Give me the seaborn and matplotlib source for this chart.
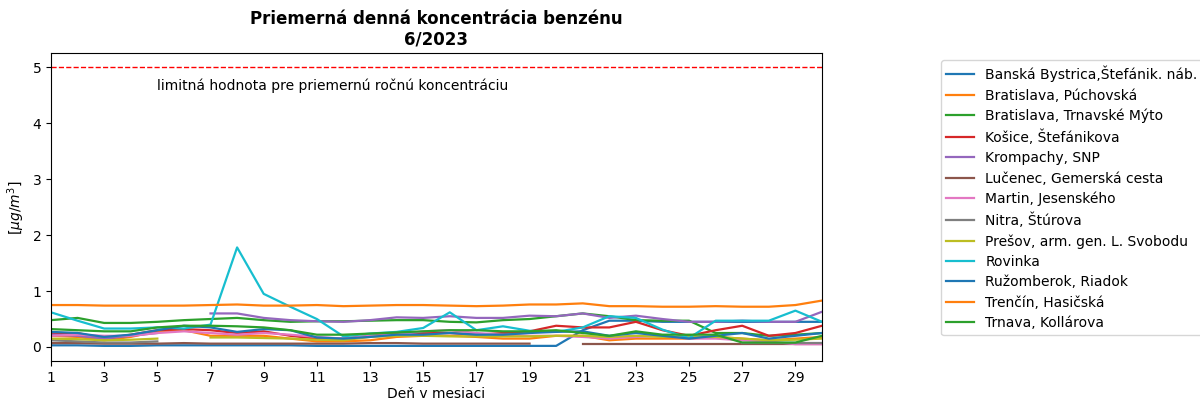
import numpy as np
import pandas as pd
import matplotlib
matplotlib.use("Agg")
import matplotlib.pyplot as plt
import seaborn as sns

nan = np.nan
days = list(range(1, 31))

stations = [
    "Banská Bystrica,Štefánik. náb.",
    "Bratislava, Púchovská",
    "Bratislava, Trnavské Mýto",
    "Košice, Štefánikova",
    "Krompachy, SNP",
    "Lučenec, Gemerská cesta",
    "Martin, Jesenského",
    "Nitra, Štúrova",
    "Prešov, arm. gen. L. Svobodu",
    "Rovinka",
    "Ružomberok, Riadok",
    "Trenčín, Hasičská",
    "Trnava, Kollárova",
]

banska_bystrica = [0.03, 0.03, 0.02, 0.02, 0.03, 0.03, 0.03, 0.03, 0.03, 0.03,
                   0.02, 0.02, 0.02, 0.02, 0.02, 0.02, 0.02, 0.02, 0.02, 0.02,
                   0.30, 0.47, 0.47, 0.45, 0.45, 0.45, 0.45, 0.45, 0.45, 0.45]
ba_puchovska = [0.20, 0.18, 0.12, 0.18, 0.28, 0.30, 0.20, 0.20, 0.20, 0.15,
                0.10, 0.10, 0.12, 0.18, 0.20, 0.20, 0.18, 0.15, 0.15, 0.20,
                0.20, 0.12, 0.15, 0.15, 0.15, 0.18, 0.15, 0.12, 0.15, 0.18]
ba_trnavske_myto = [0.48, 0.52, 0.43, 0.43, 0.45, 0.48, 0.50, 0.52, 0.48, 0.45,
                    0.46, 0.46, 0.47, 0.48, 0.48, 0.45, 0.44, 0.48, 0.50, 0.55,
                    0.60, 0.55, 0.48, 0.47, 0.47, 0.25, 0.25, 0.20, 0.22, 0.25]
kosice = [0.25, 0.25, 0.15, 0.22, 0.30, 0.32, 0.30, 0.25, 0.28, 0.20,
          0.15, 0.15, 0.20, 0.25, 0.25, 0.25, 0.22, 0.25, 0.28, 0.38,
          0.35, 0.35, 0.45, 0.30, 0.20, 0.30, 0.38, 0.20, 0.25, 0.38]
krompachy = [0.22, 0.20, 0.15, 0.20, 0.25, nan, 0.60, 0.60, 0.52, 0.48,
             0.46, 0.45, 0.48, 0.53, 0.52, 0.55, 0.52, 0.52, 0.56, 0.55,
             0.60, 0.52, 0.56, 0.50, 0.45, 0.45, 0.47, 0.45, 0.45, 0.63]
lucenec = [0.07, 0.07, 0.06, 0.06, 0.06, 0.07, 0.06, 0.06, 0.06, 0.06,
           0.06, 0.06, 0.07, 0.07, 0.06, 0.06, 0.06, 0.06, 0.06, nan,
           0.05, 0.05, 0.05, 0.05, 0.05, 0.05, 0.05, 0.05, 0.05, 0.05]
martin = [0.20, 0.22, 0.20, 0.20, 0.25, 0.28, 0.25, 0.22, 0.25, 0.22,
          0.18, 0.15, 0.20, 0.22, 0.28, 0.30, 0.25, 0.22, 0.20, 0.20,
          0.18, 0.15, 0.18, 0.20, 0.15, 0.15, 0.12, 0.10, 0.05, 0.05]
nitra = [0.12, 0.10, 0.08, 0.08, 0.10, nan, nan, nan, nan, nan,
         nan, nan, nan, nan, nan, nan, nan, nan, nan, nan,
         nan, nan, nan, nan, nan, nan, 0.08, 0.08, 0.08, 0.08]
presov = [0.15, 0.14, 0.12, 0.13, 0.15, nan, 0.17, 0.17, 0.16, 0.15,
          0.13, 0.12, 0.18, 0.20, 0.20, 0.19, 0.19, 0.19, 0.19, 0.20,
          0.20, 0.18, 0.20, 0.18, 0.18, 0.18, 0.15, 0.12, 0.13, 0.15]
rovinka = [0.62, 0.47, 0.33, 0.33, 0.35, 0.33, 0.40, 1.78, 0.95, 0.72,
           0.50, 0.19, 0.24, 0.27, 0.34, 0.62, 0.30, 0.37, 0.29, 0.27,
           0.35, 0.55, 0.52, 0.31, 0.16, 0.47, 0.47, 0.47, 0.65, 0.45]
ruzomberok = [0.27, 0.25, 0.18, 0.22, 0.30, 0.38, 0.35, 0.27, 0.32, 0.30,
              0.17, 0.15, 0.18, 0.22, 0.22, 0.25, 0.22, 0.22, 0.25, 0.27,
              0.28, 0.20, 0.25, 0.20, 0.15, 0.20, 0.25, 0.15, 0.20, 0.25]
trencin = [0.75, 0.75, 0.74, 0.74, 0.74, 0.74, 0.75, 0.76, 0.74, 0.74,
           0.75, 0.73, 0.74, 0.75, 0.75, 0.74, 0.73, 0.74, 0.76, 0.76,
           0.78, 0.73, 0.73, 0.72, 0.72, 0.73, 0.72, 0.72, 0.75, 0.83]
trnava = [0.32, 0.30, 0.28, 0.28, 0.35, 0.38, 0.38, 0.37, 0.35, 0.30,
          0.22, 0.22, 0.24, 0.26, 0.28, 0.30, 0.30, 0.28, 0.28, 0.30,
          0.25, 0.20, 0.28, 0.22, 0.22, 0.22, 0.08, 0.08, 0.08, 0.20]

series = [banska_bystrica, ba_puchovska, ba_trnavske_myto, kosice, krompachy,
          lucenec, martin, nitra, presov, rovinka, ruzomberok, trencin, trnava]

limit_value = 5
limit_text = "limitná hodnota pre priemernú ročnú koncentráciu"

# build long table with segment ids so that gaps stay gaps
rows = []
for name, vals in zip(stations, series):
    seg = 0
    prev_nan = True
    for d, v in zip(days, vals):
        if np.isnan(v):
            prev_nan = True
            continue
        if prev_nan:
            seg += 1
            prev_nan = False
        rows.append({"day": d, "value": v, "station": name, "seg": f"{name}_{seg}"})
df = pd.DataFrame(rows)

tab10 = sns.color_palette("tab10")
palette = {name: tab10[i % 10] for i, name in enumerate(stations)}

fig = plt.figure(figsize=(12, 4.01), dpi=100)
ax = fig.add_axes([0.0425, 0.0998, 0.6425, 0.7672])

sns.lineplot(data=df, x="day", y="value", hue="station", hue_order=stations,
             units="seg", estimator=None, palette=palette, linewidth=1.6,
             ax=ax, sort=True)

ax.axhline(limit_value, color="red", linestyle="--", linewidth=1)
ax.text(5, 4.6, limit_text, fontsize=10)

ax.set_xlim(1, 30)
ax.set_ylim(-0.25, 5.25)
ax.set_xticks(range(1, 31, 2))
ax.set_yticks(range(0, 6))
ax.set_xlabel("Deň v mesiaci", fontsize=10, labelpad=2)
ax.set_ylabel(r"[$\mu g/m^3$]", fontsize=10)
ax.set_title("Priemerná denná koncentrácia benzénu\n6/2023", fontsize=12,
             fontweight="bold")

handles, labels = ax.get_legend_handles_labels()
ax.legend(handles, labels, loc="upper left", bbox_to_anchor=(1.145, 1.0),
          fontsize=10, labelspacing=0.45)

fig.savefig("out.png", dpi=100)
